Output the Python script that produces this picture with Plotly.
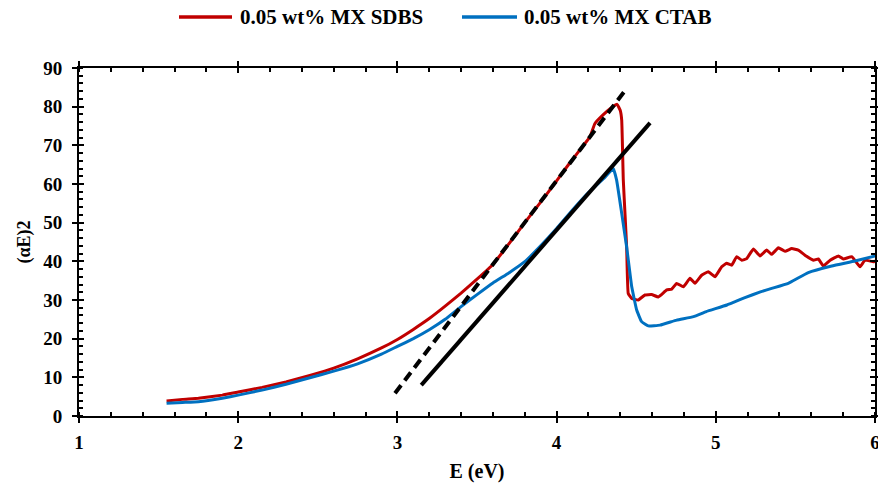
import plotly.graph_objects as go

# SDBS curve (red)
sdbs_E = [1.55, 1.65, 1.75, 1.9, 2.0, 2.15, 2.3, 2.45, 2.6, 2.75, 2.9, 3.0, 3.1, 3.2, 3.3, 3.4, 3.5,
          3.6, 3.7, 3.8, 3.9, 4.0, 4.08, 4.15, 4.21, 4.24, 4.29, 4.34, 4.38, 4.40, 4.409, 4.419,
          4.43, 4.44, 4.45, 4.472, 4.513, 4.555, 4.597, 4.639, 4.692, 4.723, 4.754, 4.796, 4.838,
          4.869, 4.911, 4.953, 4.995, 5.037, 5.068, 5.100, 5.131, 5.163, 5.194, 5.236, 5.278,
          5.320, 5.351, 5.393, 5.435, 5.477, 5.518, 5.560, 5.613, 5.644, 5.676, 5.718, 5.770,
          5.801, 5.854, 5.906, 5.937, 5.990, 6.02]
sdbs_v = [3.9, 4.3, 4.6, 5.4, 6.2, 7.4, 8.8, 10.5, 12.4, 14.8, 17.6, 19.8, 22.4, 25.2, 28.4, 31.8, 35.4,
          39.2, 44.5, 50.0, 55.3, 60.8, 65.3, 69.0, 72.2, 75.6, 77.8, 79.6, 80.6, 79.0, 76.5, 61.0,
          52.0, 43.7, 31.7, 30.4, 30.0, 31.3, 31.4, 30.8, 32.6, 32.8, 34.3, 33.4, 35.6,
          34.3, 36.4, 37.3, 36.0, 38.6, 39.5, 39.0, 41.2, 40.3, 40.7, 43.2, 41.4,
          42.9, 41.8, 43.5, 42.6, 43.3, 42.9, 41.6, 40.3, 40.6, 38.8, 40.3, 41.4,
          40.6, 41.2, 38.6, 40.3, 39.9, 40.2]

# CTAB curve (blue)
ctab_E = [1.55, 1.65, 1.75, 1.9, 2.0, 2.15, 2.3, 2.45, 2.6, 2.75, 2.9, 3.0, 3.1, 3.2, 3.3, 3.4, 3.5,
          3.6, 3.7, 3.8, 3.9, 4.0, 4.1, 4.2, 4.3, 4.356, 4.377, 4.409, 4.44, 4.472, 4.503, 4.534,
          4.576, 4.65, 4.754, 4.86, 4.94, 5.07, 5.183, 5.28, 5.351, 5.455, 5.581, 5.728, 5.874, 6.02]
ctab_v = [3.3, 3.5, 3.7, 4.6, 5.4, 6.7, 8.2, 9.9, 11.6, 13.5, 16.0, 18.0, 20.0, 22.3, 25.0, 28.3, 31.4,
          34.4, 37.0, 39.9, 44.0, 48.5, 53.3, 57.8, 61.6, 64.0, 61.0, 52.4, 43.7, 33.4, 27.4, 24.4,
          23.3, 23.5, 24.8, 25.7, 27.0, 28.7, 30.6, 32.1, 33.0, 34.3, 37.1, 38.8, 40.1, 41.6]

# Tangent lines
tan_sdbs_E = [2.985, 4.44]
tan_sdbs_v = [5.9, 84.7]
tan_ctab_E = [3.15, 4.587]
tan_ctab_v = [8.0, 75.8]

series_names = ["0.05 wt% MX SDBS", "0.05 wt% MX CTAB"]
series_colors = ["#C00000", "#0070C0"]

x_ticks = [1, 2, 3, 4, 5, 6]
y_ticks = [0, 10, 20, 30, 40, 50, 60, 70, 80, 90]
x_range = [1, 6]
y_range = [0, 90]

FONT = "Liberation Serif"
W, H = 878, 486

fig = go.Figure()
fig.add_trace(go.Scatter(x=sdbs_E, y=sdbs_v, mode="lines", name=series_names[0], showlegend=False,
                         line=dict(color=series_colors[0], width=3, shape="spline", smoothing=0.3)))
fig.add_trace(go.Scatter(x=ctab_E, y=ctab_v, mode="lines", name=series_names[1], showlegend=False,
                         line=dict(color=series_colors[1], width=3, shape="spline", smoothing=0.3)))
fig.add_trace(go.Scatter(x=tan_sdbs_E, y=tan_sdbs_v, mode="lines", showlegend=False,
                         line=dict(color="black", width=4, dash="10px,6px")))
fig.add_trace(go.Scatter(x=tan_ctab_E, y=tan_ctab_v, mode="lines", showlegend=False,
                         line=dict(color="black", width=4)))
# overlay axes to get the inner half of crossing major ticks
fig.add_trace(go.Scatter(x=[None], y=[None], xaxis="x2", yaxis="y2", showlegend=False,
                         hoverinfo="skip"))

# manual legend (line sample + text) at the top
legend_line_px = [(179, 232), (462, 517)]
legend_text_px = [238, 522]
legend_y = 1 - 17 / H
for name, color, (x0, x1), tx in zip(series_names, series_colors, legend_line_px, legend_text_px):
    fig.add_shape(type="line", xref="paper", yref="paper",
                  x0=(x0 - 79) / (W - 82), x1=(x1 - 79) / (W - 82),
                  y0=(H - 17 - 70) / (H - 138), y1=(H - 17 - 70) / (H - 138),
                  line=dict(color=color, width=3.5))
    fig.add_annotation(text=f"<b>{name}</b>", xref="paper", yref="paper",
                       x=(tx - 79) / (W - 82), y=(H - 17 - 70) / (H - 138),
                       xanchor="left", yanchor="middle", showarrow=False,
                       font=dict(family=FONT, size=21, color="black"))

axis_common = dict(
    showgrid=False, zeroline=False, showline=True, linecolor="black", linewidth=2,
    mirror="allticks", ticks="outside", ticklen=5, tickwidth=2, tickcolor="black",
    tickfont=dict(family=FONT, size=19, color="black"), automargin=False,
    ticklabeloverflow="allow",
)

fig.update_layout(
    xaxis=dict(range=x_range, tickvals=x_ticks, ticktext=[f"<b>{t}</b>" for t in x_ticks],
               minor=dict(ticks="inside", ticklen=4, tickwidth=1.5, tickcolor="black", dtick=0.2),
               title=dict(text="<b>E (eV)</b>", font=dict(family=FONT, size=20, color="black"),
                          standoff=12),
               ticklabelstandoff=3,
               **axis_common),
    yaxis=dict(range=y_range, tickvals=y_ticks, ticktext=[f"<b>{t}</b>" for t in y_ticks],
               minor=dict(ticks="inside", ticklen=4, tickwidth=1.5, tickcolor="black", dtick=2),
               title=dict(text="<b>(αE)2</b>", font=dict(family=FONT, size=18, color="black"),
                          standoff=8),
               ticklabelstandoff=6,
               **axis_common),
    xaxis2=dict(range=x_range, overlaying="x", side="bottom", tickvals=x_ticks,
                showticklabels=False, showgrid=False, zeroline=False, showline=False,
                ticks="inside", ticklen=5, tickwidth=2, tickcolor="black", mirror="allticks",
                automargin=False),
    yaxis2=dict(range=y_range, overlaying="y", side="left", tickvals=y_ticks,
                showticklabels=False, showgrid=False, zeroline=False, showline=False,
                ticks="inside", ticklen=5, tickwidth=2, tickcolor="black", mirror="allticks",
                automargin=False),
    width=W, height=H,
    margin=dict(l=79, r=3, t=68, b=70, autoexpand=False),
    paper_bgcolor="white", plot_bgcolor="white",
    showlegend=False,
)

fig.write_html("out.html")
